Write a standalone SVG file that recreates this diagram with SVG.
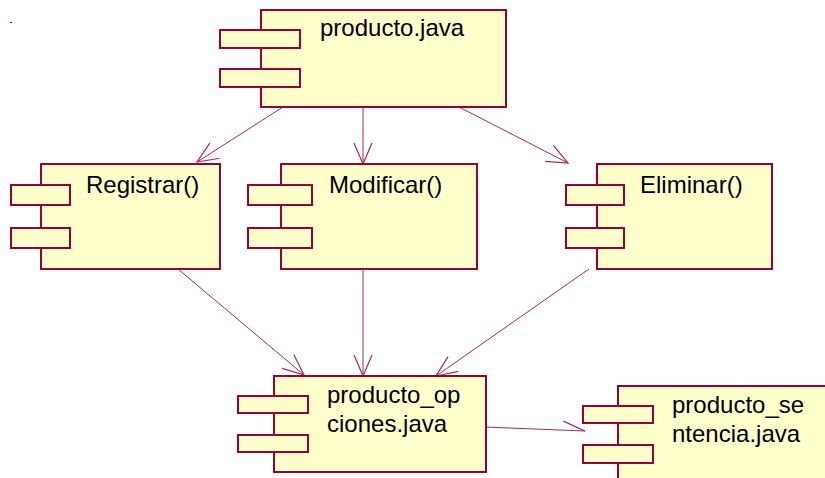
<svg xmlns="http://www.w3.org/2000/svg" width="825" height="478" viewBox="0 0 825 478">
<style>
.box{fill:#ffffcc;stroke:#990033;stroke-width:2}
.lbl{font-family:"Liberation Sans",Arial,sans-serif;font-size:24px;fill:#000}
.con{fill:none;stroke:#a8285a;stroke-width:1}
</style>
<defs>
<marker id="arr" markerUnits="userSpaceOnUse" markerWidth="30" markerHeight="30" viewBox="-25 -15 30 30" refX="0" refY="0" orient="auto" overflow="visible">
<path d="M-21,-9 L0,0 L-21,9" fill="none" stroke="#a8285a" stroke-width="1.2"/>
</marker>
<marker id="half" markerUnits="userSpaceOnUse" markerWidth="30" markerHeight="30" viewBox="-25 -15 30 30" refX="0" refY="0" orient="auto" overflow="visible">
<path d="M-22,-9 L0,0" fill="none" stroke="#a8285a" stroke-width="1.2"/>
</marker>
</defs>
<rect x="10" y="22" width="2" height="1" fill="#990033"/>
<g id="connectors">
<path class="con" d="M283,107 L197,162" marker-end="url(#arr)"/>
<path class="con" d="M363,107 L363,164" marker-end="url(#arr)"/>
<path class="con" d="M459,107 L568,163" marker-end="url(#arr)"/>
<path class="con" d="M178,269 L304,375" marker-end="url(#arr)"/>
<path class="con" d="M363,269 L363,376" marker-end="url(#arr)"/>
<path class="con" d="M589,269 L436,376" marker-end="url(#arr)"/>
<path class="con" d="M484,427 L585,431" marker-end="url(#half)"/>
</g>
<g id="producto">
<rect class="box" x="261" y="10" width="245" height="97"/>
<rect class="box" x="220" y="30" width="80" height="18"/>
<rect class="box" x="220" y="69" width="80" height="18"/>
<text class="lbl" x="320" y="36">producto.java</text>
</g>
<g id="registrar">
<rect class="box" x="41" y="164" width="179" height="105"/>
<rect class="box" x="11" y="185" width="59" height="20"/>
<rect class="box" x="11" y="228" width="59" height="20"/>
<text class="lbl" x="86" y="193">Registrar()</text>
</g>
<g id="modificar">
<rect class="box" x="281" y="164" width="196" height="105"/>
<rect class="box" x="248" y="185" width="64" height="20"/>
<rect class="box" x="248" y="228" width="64" height="20"/>
<text class="lbl" x="329" y="193">Modificar()</text>
</g>
<g id="eliminar">
<rect class="box" x="597" y="164" width="175" height="105"/>
<rect class="box" x="566" y="185" width="58" height="20"/>
<rect class="box" x="566" y="228" width="58" height="20"/>
<text class="lbl" x="640" y="193">Eliminar()</text>
</g>
<g id="producto_opciones">
<rect class="box" x="274" y="376" width="212" height="96"/>
<rect class="box" x="238" y="396" width="70" height="17"/>
<rect class="box" x="238" y="435" width="70" height="17"/>
<text class="lbl" x="327" y="403">producto_op</text>
<text class="lbl" x="327" y="432">ciones.java</text>
</g>
<g id="producto_sentencia">
<rect class="box" x="618" y="386" width="230" height="120"/>
<rect class="box" x="583" y="406" width="70" height="17"/>
<rect class="box" x="583" y="445" width="70" height="18"/>
<text class="lbl" x="672" y="413">producto_se</text>
<text class="lbl" x="672" y="442">ntencia.java</text>
</g>
</svg>
